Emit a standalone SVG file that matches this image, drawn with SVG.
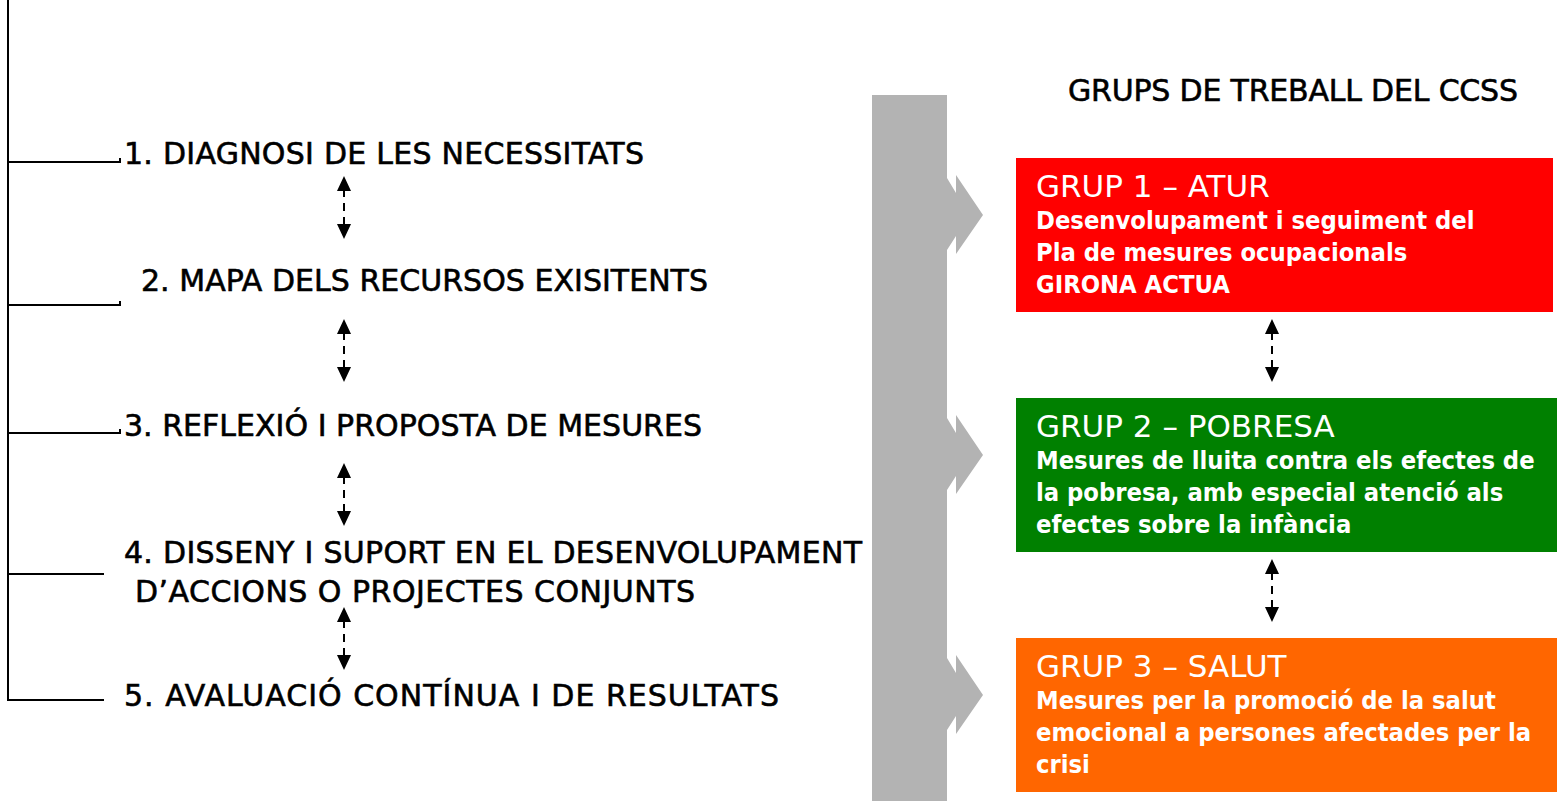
<svg xmlns="http://www.w3.org/2000/svg" width="1557" height="801" viewBox="0 0 1557 801">
<style>
.lt{font-family:"DejaVu Sans","Liberation Sans",sans-serif;font-size:30px;fill:#000;stroke:#000;stroke-width:0.6}
.hd{font-family:"DejaVu Sans","Liberation Sans",sans-serif;font-size:31px;fill:#fff}
.bd{font-family:"DejaVu Sans","Liberation Sans",sans-serif;font-size:25.3px;font-weight:bold;font-stretch:condensed;fill:#fff}
.ln{fill:none;stroke:#000;stroke-width:2}
.da{stroke:#000;stroke-width:2;stroke-dasharray:7 6 8 6 7}
.ah{fill:#000}
.gb{fill:#b3b3b3}
</style>
<defs>
<g id="dbl">
<polygon class="ah" points="0,0 -7,15 7,15"/>
<line class="da" x1="0" y1="14" x2="0" y2="49"/>
<polygon class="ah" points="0,63 -7,48 7,48"/>
</g>
</defs>
<g id="backbone">
<rect class="gb" x="872" y="95" width="75" height="706"/>
<polygon class="gb" points="947,178 956,193 956,175 983,215 956,254 956,236 947,250"/>
<polygon class="gb" points="947,418 956,433 956,415 983,455 956,494 956,476 947,490"/>
<polygon class="gb" points="947,658 956,673 956,655 983,695 956,734 956,716 947,730"/>
</g>
<g id="connectors">
<path class="ln" d="M8 0 V701"/>
<path class="ln" d="M8 162 H120 V158"/>
<path class="ln" d="M8 305 H120 V301"/>
<path class="ln" d="M8 433 H120 V429"/>
<path class="ln" d="M8 574 H104"/>
<path class="ln" d="M8 700 H104"/>
<use href="#dbl" x="344" y="176"/>
<use href="#dbl" x="344" y="319"/>
<use href="#dbl" x="344" y="463"/>
<use href="#dbl" x="344" y="607"/>
<use href="#dbl" x="1272" y="319"/>
<use href="#dbl" x="1272" y="559"/>
</g>
<g id="step1"><text class="lt" x="124" y="164" textLength="520">1. DIAGNOSI DE LES NECESSITATS</text></g>
<g id="step2"><text class="lt" x="141" y="291" textLength="567">2. MAPA DELS RECURSOS EXISITENTS</text></g>
<g id="step3"><text class="lt" x="124" y="436" textLength="578">3. REFLEXIÓ I PROPOSTA DE MESURES</text></g>
<g id="step4"><text class="lt" x="124" y="563" textLength="738">4. DISSENY I SUPORT EN EL DESENVOLUPAMENT</text><text class="lt" x="135" y="602" textLength="560">D’ACCIONS O PROJECTES CONJUNTS</text></g>
<g id="step5"><text class="lt" x="124" y="706" textLength="655">5. AVALUACIÓ CONTÍNUA I DE RESULTATS</text></g>
<g id="title"><text class="lt" x="1068" y="101" textLength="450">GRUPS DE TREBALL DEL CCSS</text></g>
<g id="grup1">
<rect x="1016" y="158" width="537" height="154" fill="#ff0000"/>
<text class="hd" x="1036" y="197">GRUP 1 – ATUR</text>
<text class="bd" x="1036" y="229">Desenvolupament i seguiment del</text>
<text class="bd" x="1036" y="261">Pla de mesures ocupacionals</text>
<text class="bd" x="1036" y="293">GIRONA ACTUA</text>
</g>
<g id="grup2">
<rect x="1016" y="398" width="541" height="154" fill="#008000"/>
<text class="hd" x="1036" y="437">GRUP 2 – POBRESA</text>
<text class="bd" x="1036" y="469">Mesures de lluita contra els efectes de</text>
<text class="bd" x="1036" y="501">la pobresa, amb especial atenció als</text>
<text class="bd" x="1036" y="533">efectes sobre la infància</text>
</g>
<g id="grup3">
<rect x="1016" y="638" width="541" height="154" fill="#ff6600"/>
<text class="hd" x="1036" y="677">GRUP 3 – SALUT</text>
<text class="bd" x="1036" y="709">Mesures per la promoció de la salut</text>
<text class="bd" x="1036" y="741">emocional a persones afectades per la</text>
<text class="bd" x="1036" y="773">crisi</text>
</g>
</svg>
